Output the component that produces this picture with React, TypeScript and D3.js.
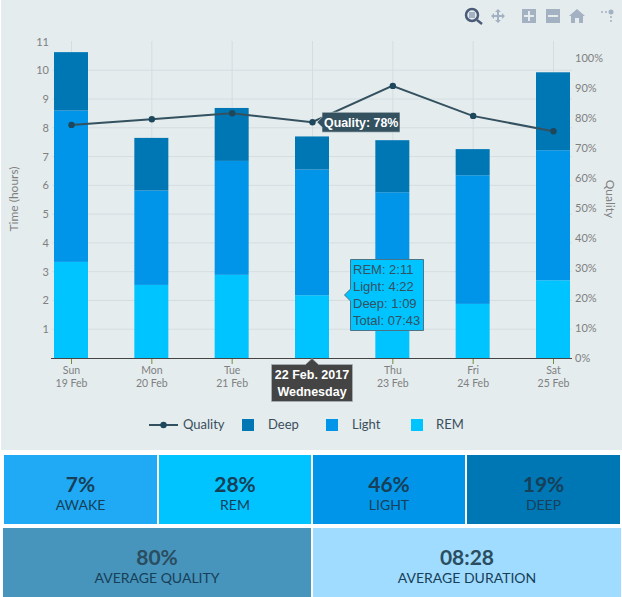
import React from "react";
import * as d3 from "d3";

const days = ["Sun", "Mon", "Tue", "Wed", "Thu", "Fri", "Sat"];
const dates = ["19 Feb", "20 Feb", "21 Feb", "22 Feb", "23 Feb", "24 Feb", "25 Feb"];
const rem = [3.34, 2.54, 2.89, 2.18, 2.99, 1.88, 2.7];
const light = [5.26, 3.28, 3.96, 4.37, 2.77, 4.47, 4.52];
const deep = [2.03, 1.83, 1.84, 1.15, 1.81, 0.91, 2.71];
const quality = [77.7, 79.6, 81.6, 78.6, 90.7, 80.7, 75.6];
const hourTicks = d3.range(0, 12);
const pctTicks = d3.range(0, 101, 10);

const stats = [
  { value: "7%", label: "AWAKE" },
  { value: "28%", label: "REM" },
  { value: "46%", label: "LIGHT" },
  { value: "19%", label: "DEEP" },
];
const averages = [
  { value: "80%", label: "AVERAGE QUALITY" },
  { value: "08:28", label: "AVERAGE DURATION" },
];

const C = {
  panel: "#e4ecee", grid: "#d4dde0", tick: "#7f7f7f", axis: "#444",
  deep: "#0077b5", light: "#0095e8", rem: "#00c4ff", line: "#34515f", marker: "#1d475c", ink: "#174058",
};
const statColors = ["#20aaf5", C.rem, C.light, C.deep];
const avgColors = ["#4794bc", "#a0dcff"];
const font = "Lato, sans-serif";
const arial = "'Liberation Sans', Arial, sans-serif";

const x = d3.scalePoint<string>().domain(days).range([71, 553]);
const y = d3.scaleLinear().domain([0, 11]).range([358, 41.5]);
const yQ = d3.scaleLinear().domain([0, 100]).range([358, 58]);
const barW = 34;

export default function App() {
  const stack = d3.stack<any>().keys(["rem", "light", "deep"])(
    days.map((d, i) => ({ day: d, rem: rem[i], light: light[i], deep: deep[i] }))
  );
  const fills = [C.rem, C.light, C.deep];
  const lineGen = d3.line<number>().x((_, i) => x(days[i])!).y((d) => yQ(d));
  const wx = x("Wed")!;
  const qy = yQ(quality[3]);
  const sq = 12;
  return (
    <svg width={622} height={597} style={{ position: "absolute", left: 0, top: 0, background: "#fff" }}>
      <rect x={1} y={0} width={621} height={450} fill={C.panel} />
      {/* grid */}
      {days.map((d) => (
        <line key={d} x1={x(d)! + 0.5} x2={x(d)! + 0.5} y1={41} y2={358} stroke={C.grid} />
      ))}
      {hourTicks.slice(1, 11).map((t) => (
        <line key={t} x1={52} x2={572} y1={y(t)} y2={y(t)} stroke={C.grid} />
      ))}
      {/* bars */}
      {stack.map((s, k) =>
        s.map((p, i) => (
          <rect key={k + "-" + i} x={x(days[i])! - barW / 2} width={barW} y={y(p[1])} height={y(p[0]) - y(p[1])} fill={fills[k]} />
        ))
      )}
      {/* axis */}
      <line x1={51} x2={572} y1={358.5} y2={358.5} stroke={C.axis} strokeWidth={1} />
      {days.map((d) => (
        <line key={d} x1={x(d)! + 0.5} x2={x(d)! + 0.5} y1={359} y2={364} stroke="#6f8f3a" strokeWidth={1} />
      ))}
      {hourTicks.filter((t) => t > 0).map((t) => (
        <text key={t} x={49} y={y(t) + 4} textAnchor="end" fontFamily={font} fontSize={11} fill={C.tick}>{t}</text>
      ))}
      {pctTicks.map((t) => (
        <text key={t} x={575} y={yQ(t) + 4} fontFamily={font} fontSize={11} fill={C.tick}>{t}%</text>
      ))}
      {days.map((d, i) =>
        d === "Wed" ? null : (
          <g key={d} fontFamily={font} fontSize={10.5} fill={C.tick} textAnchor="middle">
            <text x={x(d)! + 0.5} y={374}>{d}</text>
            <text x={x(d)! + 0.5} y={387}>{dates[i]}</text>
          </g>
        )
      )}
      <text transform="translate(18,199) rotate(-90)" textAnchor="middle" fontFamily={font} fontSize={12} fill={C.tick}>Time (hours)</text>
      <text transform="translate(606,199) rotate(90)" textAnchor="middle" fontFamily={font} fontSize={12} fill={C.tick}>Quality</text>
      {/* quality line */}
      <path d={lineGen(quality)!} fill="none" stroke={C.line} strokeWidth={2} />
      {quality.map((q, i) => (
        <circle key={i} cx={x(days[i])! + 0.5} cy={yQ(q)} r={3.2} fill={C.marker} />
      ))}
      {/* legend */}
      <line x1={149} x2={178} y1={425} y2={425} stroke={C.line} strokeWidth={2} />
      <circle cx={163.5} cy={425} r={3.2} fill={C.marker} />
      <g fontFamily={font} fontSize={13} fill="#3a4f5c">
        <text x={183} y={429}>Quality</text>
        <text x={268} y={429}>Deep</text>
        <text x={352} y={429}>Light</text>
        <text x={436} y={429}>REM</text>
      </g>
      <rect x={242} y={419} width={sq} height={sq} fill={C.deep} />
      <rect x={326} y={419} width={sq} height={sq} fill={C.light} />
      <rect x={411} y={419} width={sq} height={sq} fill={C.rem} />
      {/* quality hover label */}
      <path d={`M${wx + 5},${qy} l5,-5 v-5 h78 v20 h-78 v-5 z`} fill="#34515f" stroke="#e4ecee" strokeWidth={0.6} />
      <text x={wx + 12} y={qy + 4.5} fontFamily={arial} fontWeight={700} fontSize={12.4} fill="#fff">Quality: 78%</text>
      {/* stacked hover label */}
      <path d="M344.5,295 l6,-6 v-29.5 h73 v71 h-73 v-29.5 z" fill={C.rem} stroke="#4c7488" strokeWidth={1} />
      <g fontFamily={arial} fontSize={13} fill="#34515f">
        <text x={353} y={274}>REM: 2:11</text>
        <text x={353} y={291}>Light: 4:22</text>
        <text x={353} y={308}>Deep: 1:09</text>
        <text x={353} y={325}>Total: 07:43</text>
      </g>
      {/* x spike label */}
      <path d="M271.5,364.5 h34 l6.5,-6 l6.5,6 h34 v37 h-81 z" fill="#444" stroke="#a8b0b4" strokeWidth={0.8} />
      <g fontFamily={arial} fontWeight={700} fontSize={12.5} fill="#fff" textAnchor="middle">
        <text x={312} y={379}>22 Feb. 2017</text>
        <text x={312} y={396}>Wednesday</text>
      </g>
      {/* modebar */}
      <g fill="#a3b1c2">
        <circle cx={472} cy={15} r={6} fill="none" stroke="#4a5b78" strokeWidth={2.5} />
        <rect x={469} y={12} width={6} height={6} fill="#a3b1c2" />
        <line x1={477} y1={20} x2={482} y2={24} stroke="#4a5b78" strokeWidth={2.5} />
        <path d="M498,9 l3,3 h-2 v3 h3 v-2 l3,3 -3,3 v-2 h-3 v3 h2 l-3,3 -3,-3 h2 v-3 h-3 v2 l-3,-3 3,-3 v2 h3 v-3 h-2 z" />
        <path fillRule="evenodd" d="M522,9 h14 v14 h-14 z M528,11 v4 h-4 v2 h4 v4 h2 v-4 h4 v-2 h-4 v-4 z" />
        <path fillRule="evenodd" d="M546,9 h14 v14 h-14 z M548,15 v2 h10 v-2 z" />
        <path d="M577,9 l8,7 h-2 v7 h-4 v-5 h-4 v5 h-4 v-7 h-2 z" />
        <circle cx={602} cy={12} r={1} />
        <circle cx={606} cy={12} r={1} />
        <circle cx={611} cy={12} r={2.5} />
        <circle cx={611} cy={17} r={1} />
        <circle cx={611} cy={21} r={1} />
      </g>
      {/* summary tiles */}
      {stats.map((s, i) => {
        const tx = [4, 159, 313, 467][i];
        const tw = [153, 152, 152, 153][i];
        return (
          <g key={s.label} textAnchor="middle" fill={C.ink} fontFamily={font}>
            <rect x={tx} y={455} width={tw} height={69} fill={statColors[i]} />
            <text x={tx + tw / 2} y={492} fontSize={21} fontWeight={700}>{s.value}</text>
            <text x={tx + tw / 2} y={510} fontSize={14}>{s.label}</text>
          </g>
        );
      })}
      {averages.map((s, i) => {
        const tx = [3, 313][i];
        const tw = [308, 308][i];
        return (
          <g key={s.label} textAnchor="middle" fill={C.ink} fontFamily={font}>
            <rect x={tx} y={528} width={tw} height={69} fill={avgColors[i]} />
            <text x={tx + tw / 2} y={565} fontSize={21} fontWeight={700} fill="#2a4d60">{s.value}</text>
            <text x={tx + tw / 2} y={583} fontSize={14}>{s.label}</text>
          </g>
        );
      })}
    </svg>
  );
}
